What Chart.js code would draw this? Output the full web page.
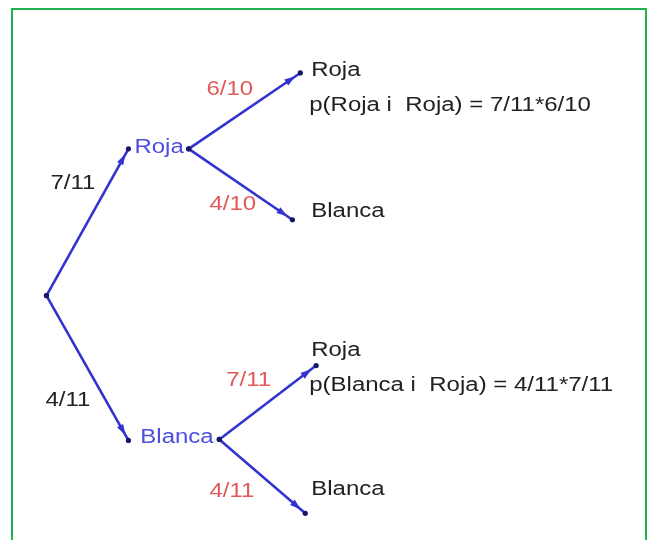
<!DOCTYPE html>
<html>
<head>
<meta charset="utf-8">
<script src="https://cdn.jsdelivr.net/npm/chart.js@4/dist/chart.umd.min.js"></script>
<style>
  body { margin: 0; background: #fff; overflow: hidden; }
  #wrap { position: relative; width: 653px; height: 540px; overflow: hidden; }
  #frame { position: absolute; left: 11px; top: 8px; width: 632px; height: 600px; border: 2px solid #1fb24e; }
  canvas { position: absolute; left: 0; top: 0; }
</style>
</head>
<body>
<div id="wrap">
  <div id="frame"></div>
  <canvas id="tree" width="653" height="540"></canvas>
</div>
<script>
// ramas del arbol: inicio (x1,y1) -> fin (x2,y2)
const branchProb = ['7/11', '4/11', '6/10', '4/10', '7/11', '4/11'];
const branchX1 = [43, 43, 187, 187, 218, 218];
const branchY1 = [296, 296, 147, 147, 442, 442];
const branchX2 = [126, 126, 300, 292, 316, 305];
const branchY2 = [147, 443, 70, 219, 367, 517];
const branchLabelX = [47, 42, 205, 208, 225, 208];
const branchLabelY = [182, 402, 87, 203, 382, 495];
const branchLabelColor = ['#222', '#222', '#e05a5a', '#e05a5a', '#e05a5a', '#e05a5a'];

// textos de los nodos
const nodeText = ['Roja', 'Blanca', 'Roja', 'p(Roja i  Roja) = 7/11*6/10', 'Blanca',
  'Roja', 'p(Blanca i  Roja) = 4/11*7/11', 'Blanca'];
const nodeTextX = [132, 138, 311, 309, 311, 311, 309, 311];
const nodeTextY = [146, 440, 67, 103, 211, 352, 387, 493];
const nodeTextColor = ['#4d4de0', '#4d4de0', '#222', '#222', '#222', '#222', '#222', '#222'];

const lineColor = '#3333cf';

const datasets = branchProb.map((p, i) => ({
  label: p,
  data: [{ x: branchX1[i], y: branchY1[i] }, { x: branchX2[i], y: branchY2[i] }],
  showLine: true,
  borderColor: lineColor,
  borderWidth: 2.6,
  pointRadius: 2.6,
  pointBackgroundColor: '#15156a',
  pointBorderWidth: 0
}));

function drawStretched(ctx, text, x, y, color) {
  ctx.save();
  ctx.fillStyle = color;
  ctx.translate(x, y);
  ctx.scale(1.2, 1);
  ctx.fillText(text, 0, 0);
  ctx.restore();
}

const treePlugin = {
  id: 'tree',
  afterDatasetsDraw(chart) {
    const ctx = chart.ctx;
    const xs = chart.scales.x, ys = chart.scales.y;
    // puntas de flecha
    chart.data.datasets.forEach((ds, i) => {
      const pts = chart.getDatasetMeta(i).data;
      const a = pts[0], b = pts[1];
      const ang = Math.atan2(b.y - a.y, b.x - a.x);
      const len = Math.hypot(b.x - a.x, b.y - a.y);
      const tip = { x: a.x + (b.x - a.x) * (len - 6) / len, y: a.y + (b.y - a.y) * (len - 6) / len };
      ctx.save();
      ctx.fillStyle = lineColor;
      ctx.translate(tip.x, tip.y);
      ctx.rotate(ang);
      ctx.beginPath();
      ctx.moveTo(0, 0);
      ctx.lineTo(-11, -3.5);
      ctx.lineTo(-11, 3.5);
      ctx.closePath();
      ctx.fill();
      ctx.restore();
    });
    ctx.save();
    ctx.font = '20px "Liberation Sans", Arial, sans-serif';
    ctx.textBaseline = 'middle';
    ctx.textAlign = 'left';
    branchProb.forEach((p, i) => {
      drawStretched(ctx, p, xs.getPixelForValue(branchLabelX[i]), ys.getPixelForValue(branchLabelY[i]), branchLabelColor[i]);
    });
    nodeText.forEach((t, i) => {
      drawStretched(ctx, t, xs.getPixelForValue(nodeTextX[i]), ys.getPixelForValue(nodeTextY[i]), nodeTextColor[i]);
    });
    ctx.restore();
  }
};

new Chart(document.getElementById('tree'), {
  type: 'scatter',
  data: { datasets },
  options: {
    responsive: false,
    animation: false,
    layout: { padding: 0 },
    plugins: { legend: { display: false }, tooltip: { enabled: false } },
    scales: {
      x: { type: 'linear', min: 0, max: 653, display: false },
      y: { type: 'linear', min: 0, max: 540, reverse: true, display: false }
    }
  },
  plugins: [treePlugin]
});
</script>
</body>
</html>
